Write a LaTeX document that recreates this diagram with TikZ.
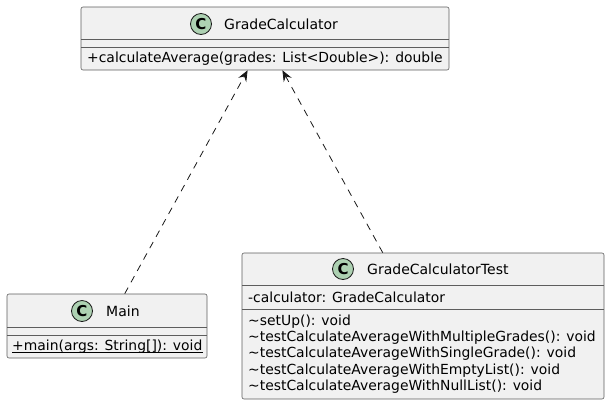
\documentclass[tikz,border=0pt]{standalone}
\usepackage{fontspec}
\setmainfont{DejaVu Sans}
\usetikzlibrary{arrows.meta}
\definecolor{umlline}{HTML}{181818}
\definecolor{umlfill}{HTML}{F1F1F1}
\definecolor{umlicon}{HTML}{ADD1B2}
\tikzset{
  classbox/.style={draw=umlline!70, fill=umlfill, line width=0.6pt, rounded corners=2pt, inner sep=0pt},
  classicon/.style={circle, draw=umlline, fill=umlicon, line width=0.8pt, minimum size=21pt, inner sep=0pt, font=\bfseries\fontsize{15}{15}\selectfont},
  classname/.style={anchor=west, inner sep=0pt, font=\fontsize{14}{16}\selectfont},
  member/.style={anchor=west, inner sep=0pt, font=\fontsize{13.9}{16}\selectfont},
  dep/.style={umlline, dash pattern=on 7pt off 6pt, line width=0.8pt, -{Stealth[length=11pt,width=9pt,inset=4pt]}}
}
\begin{document}
\begin{tikzpicture}[x=1pt,y=-1pt]
	\useasboundingbox (0,0) rectangle (610,405);
	% GradeCalculator
	\node [classbox, minimum width=368pt, minimum height=63pt] (gc) at (265,38.5) {};
	\draw [umlline!70, line width=0.6pt] (81,39) -- (449,39) (81,47) -- (449,47);
	\node [classicon] (gcicon) at (201,24) {C};
	\node [classname] (gcname) at (224,24) {GradeCalculator};
	\node [member] (gcop) at (87,59) {+calculateAverage(grades: List<Double>): double};
	% Main
	\node [classbox, minimum width=200pt, minimum height=64pt] (main) at (107,326) {};
	\draw [umlline!70, line width=0.6pt] (7,327) -- (207,327) (7,335) -- (207,335);
	\node [classicon] (mainicon) at (82,311) {C};
	\node [classname] (mainname) at (106,311) {Main};
	\node [member] (mainop) at (12,347) {+main(args: String[]): void};
	\draw [line width=0.9pt] ([yshift=-1.8pt]mainop.base west) -- ([yshift=-1.8pt]mainop.base east);
	% GradeCalculatorTest
	\node [classbox, minimum width=362pt, minimum height=146pt] (test) at (423,326) {};
	\draw [umlline!70, line width=0.6pt] (242,285) -- (604,285) (242,309) -- (604,309);
	\node [classicon] (testicon) at (343,269) {C};
	\node [classname] (testname) at (367,269) {GradeCalculatorTest};
	\node [member] (testattr) at (248,297) {-calculator: GradeCalculator};
	\foreach \op [count=\i] in {{\textasciitilde setUp(): void},
	    {\textasciitilde testCalculateAverageWithMultipleGrades(): void},
	    {\textasciitilde testCalculateAverageWithSingleGrade(): void},
	    {\textasciitilde testCalculateAverageWithEmptyList(): void},
	    {\textasciitilde testCalculateAverageWithNullList(): void}}
	  \node [member] (testop\i) at (248,305.5+16.2*\i) {\op};
	% dependencies
	\draw [dep] (main) -- (gc);
	\draw [dep] (test) -- (gc);
\end{tikzpicture}
\end{document}
